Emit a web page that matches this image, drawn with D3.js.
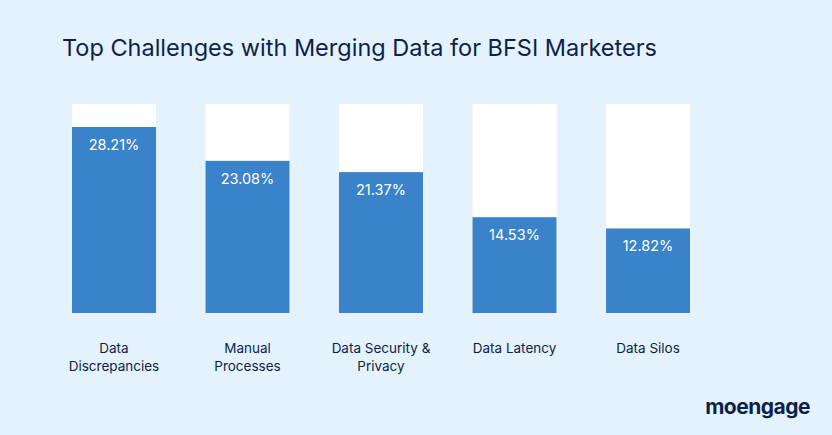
<!DOCTYPE html>
<html><head><meta charset="utf-8">
<script src="https://cdn.jsdelivr.net/npm/d3@7"></script>
<style>body{margin:0;background:#e3f2fc;}svg{display:block;font-family:Inter,"Open Sans",sans-serif;}</style>
</head><body>
<script>
const categories = [["Data","Discrepancies"],["Manual","Processes"],["Data Security &","Privacy"],["Data Latency"],["Data Silos"]];
const values = [28.21, 23.08, 21.37, 14.53, 12.82];
const valueLabels = ["28.21%","23.08%","21.37%","14.53%","12.82%"];
const W=832,H=435;
const svg=d3.select("body").append("svg").attr("width",W).attr("height",H);
svg.append("rect").attr("width",W).attr("height",H).attr("fill","#e3f2fc");
svg.append("text").attr("x",62).attr("y",56).attr("font-size",23.5).attr("fill","#0e1f4d").text("Top Challenges with Merging Data for BFSI Marketers");
const x=d3.scaleBand().domain(d3.range(values.length)).range([72,690]).paddingInner(0.371).paddingOuter(0);
const y=d3.scaleLinear().domain([0,31.7]).range([313,104]);
const g=svg.append("g");
g.selectAll(".bg").data(values).join("rect").attr("x",(d,i)=>x(i)).attr("width",x.bandwidth()).attr("y",y(31.7)).attr("height",y(0)-y(31.7)).attr("fill","#fff");
g.selectAll(".bar").data(values).join("rect").attr("x",(d,i)=>x(i)).attr("width",x.bandwidth()).attr("y",d=>y(d)).attr("height",d=>y(0)-y(d)).attr("fill","#3a82c9");
g.selectAll(".vl").data(values).join("text").attr("x",(d,i)=>x(i)+x.bandwidth()/2).attr("y",d=>y(d)+23).attr("text-anchor","middle").attr("fill","#fff").attr("font-size",14.5).text((d,i)=>valueLabels[i]);
categories.forEach((c,i)=>{
  const t=g.append("text").attr("x",x(i)+x.bandwidth()/2).attr("y",353).attr("text-anchor","middle").attr("fill","#0e1f4d").attr("font-size",13.5);
  c.forEach((l,j)=>t.append("tspan").attr("x",x(i)+x.bandwidth()/2).attr("dy",j?18:0).text(l));
});
svg.append("text").attr("x",810).attr("y",414).attr("text-anchor","end").attr("font-size",21).attr("font-weight",700).attr("fill","#0e1f4d").attr("letter-spacing",-0.5).text("moengage");
</script>
</body></html>
